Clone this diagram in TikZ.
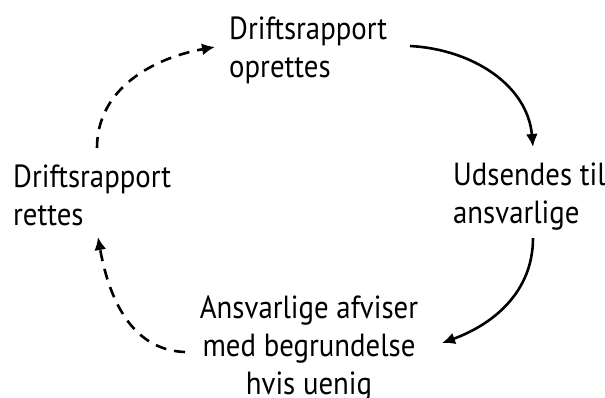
\documentclass[tikz,border=0pt]{standalone}
\usepackage{fontspec}
\setmainfont{PT Sans}[FakeStretch=0.9]
\usetikzlibrary{arrows.meta}
\begin{document}
\begin{tikzpicture}[x=1pt,y=-1pt,
  lbl/.style={inner sep=0pt, font=\fontsize{32}{38}\selectfont},
  flow/.style={line width=2.6pt, -{Latex[length=13pt,width=12pt]}},
  back/.style={flow, dash pattern=on 11pt off 8pt}]
\useasboundingbox (0,0) rectangle (605,397);
\node[lbl, align=left, anchor=north west] (top) at (229,17) {Driftsrapport\\oprettes};
\node[lbl, align=left, anchor=north west] (right) at (453,163) {Udsendes til\\ansvarlige};
\node[lbl, align=left, anchor=north west] (left) at (13,165) {Driftsrapport\\rettes};
\node[lbl, align=center, anchor=north] (bottom) at (309,296) {Ansvarlige afviser\\med begrundelse\\hvis uenig};
\draw[flow] ([shift={(181,29)}]top.north west) to[out=-3,in=95] ([shift={(80,-16)}]right.north west);
\draw[flow] ([shift={(80,75)}]right.north west) to[out=-90,in=20] ([shift={(133,47)}]bottom.north);
\draw[back] ([shift={(-124,56)}]bottom.north) to[out=178,in=-80] ([shift={(85,72)}]left.north west);
\draw[back] ([shift={(84,-17)}]left.north west) to[out=90,in=190] ([shift={(-14,30)}]top.north west);
\end{tikzpicture}
\end{document}
